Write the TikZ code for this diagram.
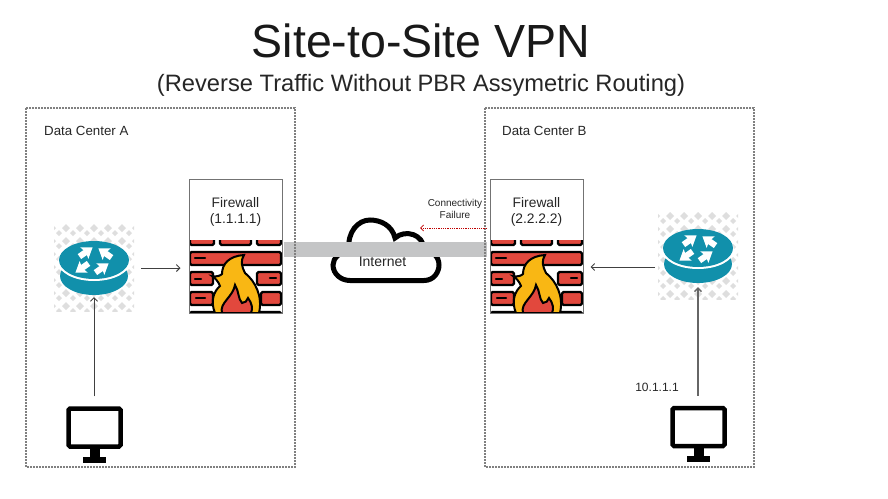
\documentclass[tikz,border=0pt]{standalone}
\usepackage{fontspec}
\setmainfont{Liberation Sans}
\usetikzlibrary{arrows.meta,positioning}

\definecolor{rtrteal}{HTML}{1190AB}
\definecolor{brickred}{HTML}{E2483D}
\definecolor{flameyellow}{HTML}{F9B714}
\definecolor{bandgray}{HTML}{C4C5C6}

\tikzset{
  dcbox/.style={draw=black!50, line width=1.2pt, dash pattern=on 2pt off 1pt},
  dctext/.style={font=\fontsize{13.3}{16}\selectfont, anchor=west, inner sep=0pt, text=black!85},
  fwbox/.style={draw=black!55, line width=1pt, minimum width=93pt, minimum height=134pt, inner sep=0pt},
  fwtext/.style={font=\fontsize{13.8}{16}\selectfont, align=center, inner sep=0pt, text=black!85},
  rtrbody/.style={minimum width=70pt, minimum height=54pt, inner sep=0pt},
  pcbox/.style={draw=black, line width=4.5pt, rounded corners=1.5pt, minimum width=52pt, minimum height=38pt, inner sep=0pt},
  conn/.style={draw=black!75, line width=0.9pt, -{Straight Barb[length=3.5pt,width=7pt]}},
  upconn/.style={conn, draw=black!60, line width=1.3pt},
  failconn/.style={draw=red!75!black, line width=0.8pt, densely dotted, -{Straight Barb[length=3pt,width=6pt]}},
  % router icon, origin at the centre of its top disc
  router/.pic={
    \begin{scope}
      \clip (-40,-40) rectangle (40,51);
      \foreach \i in {0,...,6} {
        \foreach \j in {0,...,7} {
          \fill[black!13] ({-42+\i*14},{-36+\j*13}) -- ++(4,4) -- ++(-4,4) -- ++(-4,-4) -- cycle;
          \fill[black!13] ({-35+\i*14},{-30+\j*13}) -- ++(3,3) -- ++(-3,3) -- ++(-3,-3) -- cycle;
        }
      }
    \end{scope}
    \fill[rtrteal] (0,16) ellipse (34 and 19);
    \fill[white] (0,2) ellipse (36 and 19);
    \fill[rtrteal] (0,0) ellipse (35 and 19);
    \foreach \x/\y/\a in {-8/-8/35, 11/-7/145, -12/8/215, 8/8/35} {
      \fill[white, shift={(\x,\y)}, rotate=\a]
        (-8,-3) -- (-1,-3) -- (-2,-7) -- (8,0) -- (-2,7) -- (-1,3) -- (-8,3) -- cycle;
    }
  },
  % firewall icon, origin at the top left corner of the box
  firewall/.pic={
    \begin{scope}
      \clip (0,61) rectangle (93,134);
      \foreach \xa/\ya/\xb/\yb in {1/55/25/66, 31/55/62/66, 68/55/92/66, 1/73/92/86,
          1/93/24/106, 68/93/92/106, 1/113/24/126, 72/113/92/126, 1/133/92/145} {
        \filldraw[fill=brickred, draw=black, line width=2.4pt, rounded corners=1.5pt] (\xa,\ya) rectangle (\xb,\yb);
      }
      \draw[line width=2.2pt, line cap=round] (6,79) -- (16,79) (6,100) -- (12,100) (7,119) -- (16,119) (81,99) -- (87,99);
      \filldraw[fill=flameyellow, draw=black, line width=2pt]
        (26,134) .. controls (21,122) and (25,112) .. (31,107)
        .. controls (29,102) and (26,99) .. (23,97)
        .. controls (27,98) and (31,97) .. (33,95)
        .. controls (33,85) and (40,77) .. (55,76)
        .. controls (51,82) and (53,88) .. (56,94)
        .. controls (66,102) and (74,117) .. (70,134) -- cycle;
      \filldraw[fill=brickred, draw=black, line width=2pt]
        (33,134) .. controls (30,124) and (44,118) .. (46,106)
        .. controls (50,112) and (49,120) .. (53,124)
        .. controls (56,124) and (58,122) .. (59,119)
        .. controls (63,124) and (64,130) .. (62,134) -- cycle;
    \end{scope}
  }
}

\begin{document}
\begin{tikzpicture}[x=1pt, y=-1pt]

  \useasboundingbox (0,0) rectangle (888,498);

  % Titles
  \node[font=\fontsize{46.5}{56}\selectfont, inner sep=0pt, text=black!90] (title) at (421,41) {Site-to-Site VPN};
  \node[font=\fontsize{23.7}{28}\selectfont, inner sep=0pt, text=black!85] (subtitle) at (421,85) {(Reverse Traffic Without PBR Assymetric Routing)};

  % Internet cloud, the tunnel band runs over it
  \draw[line width=5pt, fill=white]
    (350,280.5) -- (424,280.5)
    .. controls (434,280.5) and (439,272) .. (439,265)
    .. controls (439,256) and (432,251) .. (424,250)
    .. controls (424,234) and (405,229) .. (395,238)
    .. controls (392,225) and (380,220) .. (370,220)
    .. controls (358,220) and (347,232) .. (349,250)
    .. controls (340,252) and (333,258) .. (333,265)
    .. controls (333,274) and (341,280.5) .. (350,280.5) -- cycle;
  \fill[bandgray] (284,242) rectangle (487,257);
  \node[font=\fontsize{14}{16}\selectfont, inner sep=0pt, text=black!85] (internet) at (382.5,262) {Internet};

  % Data centers
  \draw[dcbox] (26,108) rectangle (295,467);
  \draw[dcbox] (485,108) rectangle (754,467);
  \node[dctext] (dcA) at (44,131) {Data Center A};
  \node[dctext] (dcB) at (502,131) {Data Center B};

  % Firewalls
  \pic at (189,179) {firewall};
  \pic at (490,179) {firewall};
  \node[fwbox] (fwA) at (235.5,246) {};
  \node[fwbox] (fwB) at (536.5,246) {};
  \node[fwtext, below=19pt of fwA.north] (fwlabelA) {Firewall\\(1.1.1.1)};
  \node[fwtext, below=19pt of fwB.north] (fwlabelB) {Firewall\\(2.2.2.2)};

  % Routers
  \pic at (94,260) {router};
  \pic at (698,248) {router};
  \node[rtrbody] (rtrA) at (94,268) {};
  \node[rtrbody] (rtrB) at (698,256) {};

  % Monitors
  \node[pcbox] (pcA) at (94.5,427.5) {};
  \node[pcbox] (pcB) at (698.5,427) {};
  \foreach \side in {A,B} {
    \fill (pc\side.south) ++(-5,0) rectangle ++(10,8);
    \fill (pc\side.south) ++(-11.5,8) rectangle ++(23,6);
  }

  % Traffic
  \coordinate (outA) at (141,268);
  \coordinate (outB) at (655,267);
  \draw[conn, shorten >=8pt] (outA) -- (outA -| fwA.west);
  \draw[conn, shorten >=7pt] (outB) -- (outB -| fwB.east);
  \draw[conn, xshift=-0.7pt, shorten <=10pt, shorten >=2pt] (rtrA.south |- pcA.north) -- (rtrA.south);
  \draw[upconn, shorten <=10pt, shorten >=4pt] (rtrB.south |- pcB.north) -- (rtrB.south);
  \node[font=\fontsize{12}{14}\selectfont, inner sep=0pt, text=black!85] (ipB) at (657,387) {10.1.1.1};

  % Failure on the way back
  \coordinate (failB) at (487,228);
  \coordinate (failA) at (420,228);
  \draw[failconn] (failB) -- (failA);
  \node[font=\fontsize{10}{12}\selectfont, align=center, inner sep=0pt, text=black!85] (failtext) at (455,209) {Connectivity\\Failure};

\end{tikzpicture}
\end{document}
